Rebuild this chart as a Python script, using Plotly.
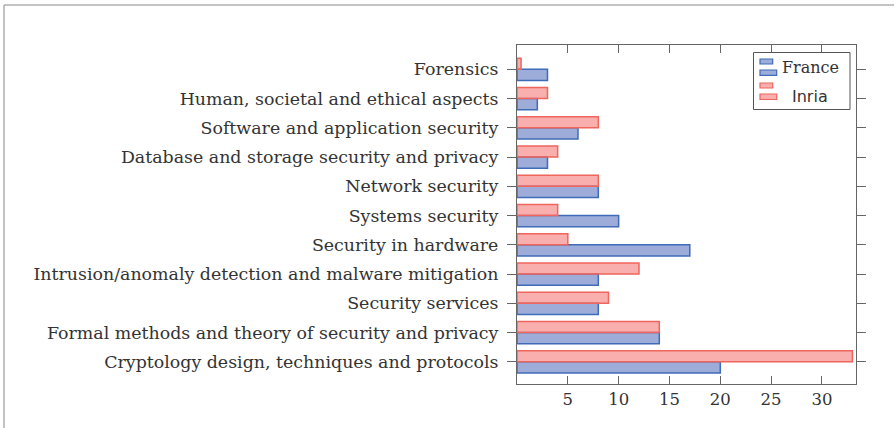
import plotly.graph_objects as go

# categories listed bottom to top
categories = [
    "Cryptology design, techniques and protocols",
    "Formal methods and theory of security and privacy",
    "Security services",
    "Intrusion/anomaly detection and malware mitigation",
    "Security in hardware",
    "Systems security",
    "Network security",
    "Database and storage security and privacy",
    "Software and application security",
    "Human, societal and ethical aspects",
    "Forensics",
]
france = [20, 14, 8, 8, 17, 10, 8, 3, 6, 2, 3]
inria = [33, 14, 9, 12, 5, 4, 8, 4, 8, 3, 0.4]
x_ticks = [5, 10, 15, 20, 25, 30]
series_names = ["France", "Inria"]

SERIF = "DejaVu Serif, serif"
SANS = "DejaVu Sans, sans-serif"
TXT = "#333333"
AX = "#666666"

BLUE_FILL = "rgba(60,90,180,0.5)"
BLUE_LINE = "#3f6bb8"
RED_FILL = "rgba(245,110,110,0.55)"
RED_LINE = "#f0655c"

# plot area in screen pixels
L, R, T, B = 517, 856, 45, 384
W, H = 895, 428


def px(x):
    return (x - L) / (R - L)


def py(y):
    return (B - y) / (B - T)


fig = go.Figure()
fig.add_trace(go.Bar(
    y=categories, x=france, orientation="h", name=series_names[0],
    marker=dict(color=BLUE_FILL, line=dict(color=BLUE_LINE, width=1.5)),
))
fig.add_trace(go.Bar(
    y=categories, x=inria, orientation="h", name=series_names[1],
    marker=dict(color=RED_FILL, line=dict(color=RED_LINE, width=1.5)),
))

fig.update_layout(
    width=W, height=H,
    paper_bgcolor="white", plot_bgcolor="white",
    margin=dict(l=L, r=W - R, t=T, b=H - B),
    barmode="group", bargap=0.24, bargroupgap=0,
    font=dict(family=SERIF, size=16, color=TXT),
    showlegend=False,
)
fig.update_xaxes(
    range=[0, 33.35], tickvals=x_ticks, ticktext=[str(v) for v in x_ticks],
    ticks="inside", ticklen=8, tickcolor=AX,
    showline=True, linecolor=AX, linewidth=1.2, mirror="ticks",
    showgrid=False, zeroline=False,
    tickfont=dict(family=SERIF, size=16.5, color=TXT),
)
fig.update_yaxes(
    type="category", categoryorder="array", categoryarray=categories,
    range=[-0.76, 10.83],
    ticks="outside", ticklen=9, tickcolor=AX, ticklabelstandoff=5,
    showline=True, linecolor=AX, linewidth=1.2, mirror="ticks",
    showgrid=False, zeroline=False,
    tickfont=dict(family=SERIF, size=17.4, color=TXT),
)

shapes = []
# outer frame (top and left edges visible)
shapes.append(dict(type="line", xref="paper", yref="paper",
                   x0=px(4), x1=px(894), y0=py(5), y1=py(5),
                   line=dict(color="#888888", width=1)))
shapes.append(dict(type="line", xref="paper", yref="paper",
                   x0=px(4), x1=px(4), y0=py(5), y1=py(440),
                   line=dict(color="#888888", width=1)))
# legend box
shapes.append(dict(type="rect", xref="paper", yref="paper",
                   x0=px(753.5), x1=px(850), y0=py(109.5), y1=py(52.5),
                   line=dict(color="#555555", width=1), fillcolor="white"))
# legend icons (pgfplots-style double bars)
for (fill, line, ys) in [
    (BLUE_FILL, BLUE_LINE, [(59, 64, 772.7), (70, 75.3, 776.7)]),
    (RED_FILL, RED_LINE, [(83, 88, 772.7), (94, 99.5, 776.7)]),
]:
    for (y0, y1, x1) in ys:
        shapes.append(dict(type="rect", xref="paper", yref="paper",
                           x0=px(760), x1=px(x1), y0=py(y1), y1=py(y0),
                           line=dict(color=line, width=1.2), fillcolor=fill))
fig.update_layout(shapes=shapes)

fig.add_annotation(xref="paper", yref="paper", x=px(780), y=py(68),
                   text=series_names[0], showarrow=False, xanchor="left",
                   yanchor="middle", font=dict(family=SERIF, size=16, color=TXT))
fig.add_annotation(xref="paper", yref="paper", x=px(810), y=py(96),
                   text=series_names[1], showarrow=False, xanchor="center",
                   yanchor="middle", font=dict(family=SANS, size=16, color=TXT))

fig.write_html("out.html", config={"displayModeBar": False},
               post_script="document.body.style.margin='0px';")
